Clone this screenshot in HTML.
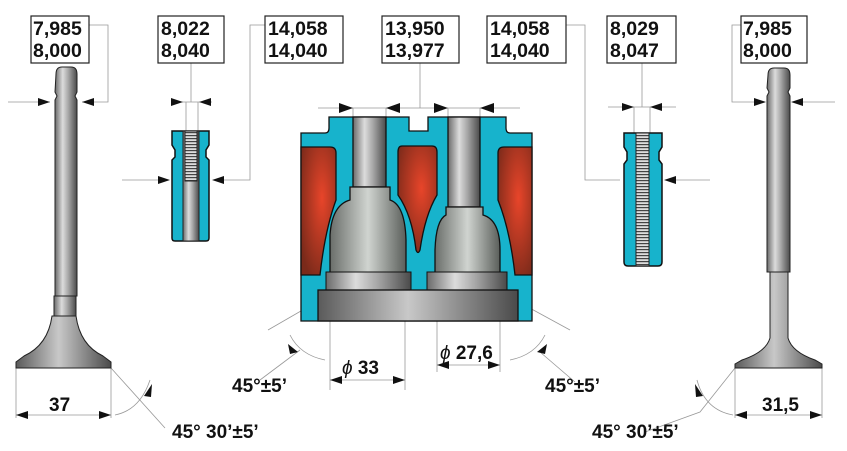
<!DOCTYPE html>
<html><head><meta charset="utf-8"><style>
html,body{margin:0;padding:0;background:#fff;}
svg{display:block;}
text{font-family:"Liberation Sans",Arial,sans-serif;font-weight:bold;fill:#111;}
</style></head><body>
<svg width="847" height="451" viewBox="0 0 847 451" xmlns="http://www.w3.org/2000/svg">
<defs>
<linearGradient id="st" x1="0" x2="1"><stop offset="0" stop-color="#6a6a6a"/><stop offset="0.35" stop-color="#dcdcdc"/><stop offset="0.6" stop-color="#a8a8a8"/><stop offset="1" stop-color="#4a4a4a"/></linearGradient>
<linearGradient id="hd" x1="0" x2="1"><stop offset="0" stop-color="#5a5a5a"/><stop offset="0.45" stop-color="#c8c8c8"/><stop offset="1" stop-color="#4a4a4a"/></linearGradient>
<linearGradient id="gh" x1="0" x2="1"><stop offset="0" stop-color="#6a6e6a"/><stop offset="0.5" stop-color="#d0d4d0"/><stop offset="1" stop-color="#5a5e5a"/></linearGradient>
<radialGradient id="red" cx="0.6" cy="0.4" r="0.7"><stop offset="0" stop-color="#e8452a"/><stop offset="1" stop-color="#7a2a1a"/></radialGradient>
<pattern id="thr" width="6" height="3" patternUnits="userSpaceOnUse"><rect width="6" height="3" fill="#ddd"/><rect width="6" height="1.2" fill="#444"/></pattern>
</defs>
<g stroke="#999" stroke-width="0.8" fill="none">
<path d="M89 25 H108 V102 H82 M8 102 H50"/>
<path d="M191 63 V102 M178 102 H212 M186 102 V131 M198 102 V131"/>
<path d="M265 25 H250 V180 H215 M122 180 H168"/>
<path d="M420 63 V108 M318 108 H520 M353 108 V122 M386 108 V122 M448 108 V122 M480 108 V122"/>
<path d="M566 25 H585 V180 H620 M672 180 H710"/>
<path d="M642 63 V107 M608 107 H676 M634 107 V133 M650 107 V133"/>
<path d="M741 25 H732 V102 H762 M795 102 H835"/>
<path d="M16 368 V418 M111 368 V418 M16 415 H111"/>
<path d="M735 368 V418 M822 368 V418 M735 415 H822"/>
<path d="M111 368 L165 428 M115 415 Q140 410 150 380"/>
<path d="M735 368 L700 412 L645 432 M733 415 Q705 410 697 380"/>
<path d="M330 300 V390 M405 300 V390 M330 380 H405 M437 300 V372 M500 300 V372 M437 365 H500"/>
<path d="M320 300 L268 330 M290 335 Q300 355 325 360 M260 380 L300 350"/>
<path d="M515 300 L570 330 M545 335 Q535 355 510 360 M575 382 L540 352"/>
</g>
<g fill="#111">
<path d="M50 102 l-12 -4 v8z"/><path d="M82 102 l12 -4 v8z"/>
<path d="M183 102 l-12 -4 v8z"/><path d="M199 102 l12 -4 v8z"/>
<path d="M170 180 l-12 -4 v8z"/><path d="M212 180 l12 -4 v8z"/>
<path d="M353 108 l-14 -5 v10z"/><path d="M386 108 l14 -5 v10z"/>
<path d="M448 108 l-14 -5 v10z"/><path d="M480 108 l14 -5 v10z"/>
<path d="M634 107 l-12 -4 v8z"/><path d="M650 107 l12 -4 v8z"/>
<path d="M664 180 l12 -4 v8z"/>
<path d="M766 102 l-12 -4 v8z"/><path d="M791 102 l12 -4 v8z"/>
<path d="M16 415 l12 -4 v8z"/><path d="M111 415 l-12 -4 v8z"/>
<path d="M735 415 l12 -4 v8z"/><path d="M822 415 l-12 -4 v8z"/>
<path d="M330 380 l12 -4 v8z"/><path d="M405 380 l-12 -4 v8z"/>
<path d="M437 365 l12 -4 v8z"/><path d="M500 365 l-12 -4 v8z"/>
<path d="M144 396 l8 -12 l-1 13z"/><path d="M703 396 l-8 -12 l1 13z"/>
<path d="M298 352 l-10 -8 l2 10z"/><path d="M537 352 l10 -8 l-2 10z"/>
</g>
<g fill="#fff" stroke="#222" stroke-width="1.2">
<rect x="31" y="16" width="58" height="47"/><rect x="158" y="16" width="66" height="47"/>
<rect x="265" y="16" width="78" height="47"/><rect x="382" y="16" width="77" height="47"/>
<rect x="487" y="16" width="79" height="47"/><rect x="607" y="16" width="69" height="47"/>
<rect x="741" y="16" width="66" height="47"/>
</g>
<g font-size="19.5">
<text x="33" y="35">7,985</text><text x="33" y="57">8,000</text>
<text x="161" y="35">8,022</text><text x="161" y="57">8,040</text>
<text x="268" y="35">14,058</text><text x="268" y="57">14,040</text>
<text x="385" y="35">13,950</text><text x="385" y="57">13,977</text>
<text x="490" y="35">14,058</text><text x="490" y="57">14,040</text>
<text x="610" y="35">8,029</text><text x="610" y="57">8,047</text>
<text x="743" y="35">7,985</text><text x="743" y="57">8,000</text>
</g>
<g stroke="#222" stroke-width="1">
<path d="M56 74 Q56 67 62 67 H71 Q77 67 77 74 V92 L75 96 L77 100 V296 H55 V100 L57 96 L55 92z" fill="url(#st)"/>
<rect x="54" y="296" width="22" height="20" fill="url(#st)"/>
<path d="M52 316 H76 Q80 345 103 356 L111 362 V368 H16 V362 L24 356 Q48 345 52 316z" fill="url(#hd)"/>
<path d="M768 75 Q768 68 774 68 H784 Q790 68 790 75 V88 L788 92 L790 96 V272 H767 V96 L769 92 L767 88z" fill="url(#st)"/>
<path d="M770 272 H788 V338 Q792 352 815 360 L822 364 V368 H735 V364 L742 360 Q766 352 770 338z" fill="url(#hd)"/>
<path d="M172 131 H209 V145 L206 150 V157 L209 160 V238 Q209 241 206 241 H175 Q172 241 172 238 V160 L175 157 V150 L172 145z" fill="#17b3cc" stroke="#111" stroke-width="1.5"/>
<rect x="183" y="131" width="16" height="110" fill="url(#st)"/>
<rect x="185" y="131" width="12" height="50" fill="url(#thr)"/>
<path d="M624 133 H662 V147 L659 152 V160 L662 164 V262 Q662 266 658 266 H628 Q624 266 624 262 V164 L627 160 V152 L624 147z" fill="#17b3cc" stroke="#111" stroke-width="1.5"/>
<rect x="636" y="133" width="13" height="133" fill="url(#thr)"/>
</g>
<g stroke="#111" stroke-width="1.3">
<path d="M301 133 H325 Q329 133 329 128 V117 H409 V131 H428 V117 H506 V128 Q506 133 510 133 H532 V321 H301z" fill="#17b3cc"/>
<path d="M301 147 H330 Q336 147 336 153 V200 Q325 230 320 275 H301z" fill="url(#red)"/>
<path d="M402 146 H432 Q437 146 437 152 V195 Q425 215 420 250 Q418 255 416 250 Q412 215 398 195 V152 Q398 146 402 146z" fill="url(#red)"/>
<path d="M532 147 H504 Q498 147 498 153 V200 Q510 230 515 275 H532z" fill="url(#red)"/>
<rect x="353" y="117" width="33" height="70" fill="url(#st)"/>
<rect x="448" y="117" width="32" height="90" fill="url(#st)"/>
<path d="M350 187 H390 V200 Q405 205 406 240 V285 H330 V235 Q332 205 350 200z" fill="url(#gh)"/>
<path d="M446 207 H483 V215 Q500 220 500 250 V285 H435 V250 Q436 220 446 215z" fill="url(#gh)"/>
<rect x="326" y="272" width="85" height="18" fill="url(#st)" stroke-width="1"/>
<rect x="427" y="272" width="80" height="18" fill="url(#st)" stroke-width="1"/>
<rect x="318" y="290" width="200" height="31" fill="url(#hd)"/>
</g>
<g font-size="19">
<text x="49" y="411">37</text>
<text x="762" y="411">31,5</text>
<text x="342" y="374"><tspan font-style="italic" font-weight="normal">ϕ</tspan> 33</text>
<text x="440" y="359"><tspan font-style="italic" font-weight="normal">ϕ</tspan> 27,6</text>
<text x="232" y="392">45°±5’</text>
<text x="545" y="392">45°±5’</text>
<text x="172" y="438">45° 30’±5’</text>
<text x="592" y="438">45° 30’±5’</text>
</g>
</svg>
</body></html>
